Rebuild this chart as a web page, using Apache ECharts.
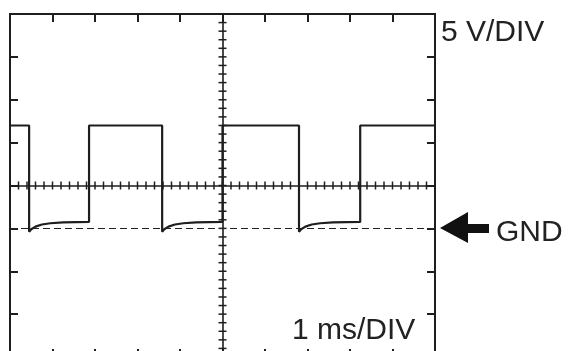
<!DOCTYPE html>
<html>
<head>
<meta charset="utf-8">
<script src="https://cdn.jsdelivr.net/npm/echarts@6/dist/echarts.min.js"></script>
<style>html,body{margin:0;padding:0;background:#fff;}#c{width:568px;height:351px;}</style>
</head>
<body>
<div id="c"></div>
<script>
// Time axis (ms) and voltage axis (V)
var timeMin = 0, timeMax = 10, timeStep = 1;
var voltMin = -15, voltMax = 25, voltStep = 5;
var voltLabel = '5 V/DIV';
var timeLabel = '1 ms/DIV';
var gndLabel = 'GND';
var centreTime = 5, centreVolt = 5, gndVolt = 0;

// Trace
var traceTime = [0, 0.45, 0.45, 0.5, 0.6, 0.75, 0.95, 1.25, 1.86, 1.86,
                 3.58, 3.58, 3.63, 3.73, 3.88, 4.08, 4.38, 5.0, 5.0,
                 6.8, 6.8, 6.85, 6.95, 7.1, 7.3, 7.6, 8.24, 8.24, 10];
var traceVolt = [12, 12, -0.4, -0.1, 0.2, 0.45, 0.6, 0.7, 0.75, 12,
                 12, -0.4, -0.1, 0.2, 0.45, 0.6, 0.7, 0.75, 12,
                 12, -0.4, -0.1, 0.2, 0.45, 0.6, 0.7, 0.75, 12, 12];

var trace = traceTime.map(function (t, i) { return [t, traceVolt[i]]; });

// graticule sub-division ticks on the centre lines (5 per division)
var centreTicks = [];
for (var k = 0; k <= (timeMax - timeMin) * 5; k++) centreTicks.push([timeMin + k * timeStep / 5, centreVolt, 1]);
for (var j = 0; j <= (voltMax - voltMin) / voltStep * 5; j++) centreTicks.push([centreTime, voltMin + j * voltStep / 5, 0]);

var INK = '#1e1e1e';
var chart = echarts.init(document.getElementById('c'), null, {renderer: 'canvas'});
function frameAxis(pos) {
  return {
    show: true, position: pos, axisLine: {show: false, onZero: false},
    axisTick: {show: true, inside: true, length: 8, lineStyle: {color: INK, width: 2}},
    axisLabel: {show: false}, splitLine: {show: false}
  };
}
var xa = ['bottom', 'top'].map(function (p) {
  return Object.assign({type: 'value', min: timeMin, max: timeMax, interval: timeStep}, frameAxis(p));
});
var ya = ['left', 'right'].map(function (p) {
  return Object.assign({type: 'value', min: voltMin, max: voltMax, interval: voltStep}, frameAxis(p));
});

chart.setOption({
  animation: false,
  backgroundColor: '#fff',
  grid: {left: 10, top: 14, width: 425, height: 343, outerBoundsMode: 'none', containLabel: false,
         show: true, borderColor: INK, borderWidth: 2, backgroundColor: 'transparent'},
  xAxis: xa,
  yAxis: ya,
  series: [
    {
      type: 'custom', xAxisIndex: 0, yAxisIndex: 0, silent: true, z: 3,
      data: centreTicks,
      renderItem: function (params, api) {
        var p = api.coord([api.value(0), api.value(1)]);
        var horiz = api.value(2) === 0;
        return {
          type: 'line',
          shape: horiz ? {x1: p[0] - 4, y1: p[1], x2: p[0] + 4, y2: p[1]}
                       : {x1: p[0], y1: p[1] - 4, x2: p[0], y2: p[1] + 4},
          style: {stroke: INK, lineWidth: 1.5}
        };
      }
    },
    {
      type: 'line', xAxisIndex: 0, yAxisIndex: 0, data: trace, showSymbol: false, silent: true, z: 4,
      lineStyle: {color: INK, width: 2.2}, clip: true,
      markLine: {
        silent: true, symbol: 'none', label: {show: false},
        data: [
          {yAxis: centreVolt, lineStyle: {color: INK, width: 1.6, type: 'solid'}},
          {xAxis: centreTime, lineStyle: {color: INK, width: 1.6, type: 'solid'}},
          {yAxis: gndVolt, lineStyle: {color: '#222', width: 1.1, type: [7, 4]}}
        ]
      }
    }
  ],
  graphic: [
    {type: 'text', left: 441, top: 18, style: {text: voltLabel, font: '30px "Liberation Sans", Arial, sans-serif', fill: '#222'}},
    {type: 'text', left: 292, top: 316, style: {text: timeLabel, font: '30px "Liberation Sans", Arial, sans-serif', fill: '#222'}},
    {type: 'text', left: 496, top: 218, style: {text: gndLabel, font: '30px "Liberation Sans", Arial, sans-serif', fill: '#222'}},
    {type: 'polygon', shape: {points: [[440, 228], [468, 212], [468, 224], [489, 224], [489, 233], [468, 233], [468, 243]]}, style: {fill: '#111'}}
  ]
});
</script>
</body>
</html>
